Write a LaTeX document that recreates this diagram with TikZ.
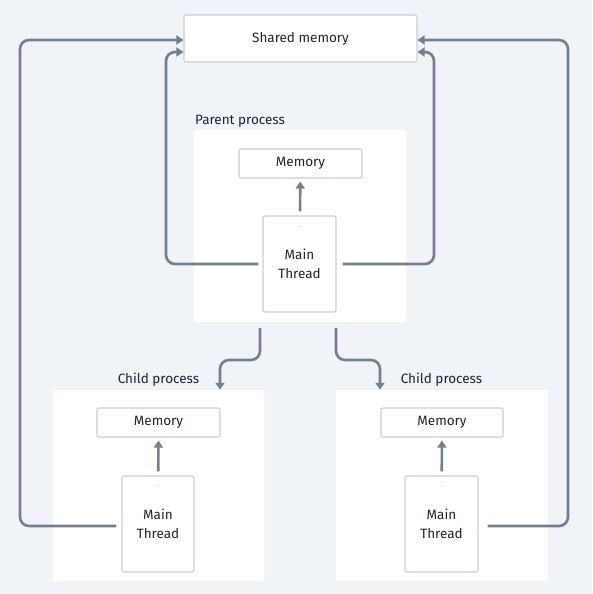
\documentclass[tikz,border=0pt]{standalone}
\usepackage{fontspec}
\setmainfont{Fira Sans}
\usetikzlibrary{arrows.meta, positioning}
\definecolor{canvas}{RGB}{240,243,247}
\definecolor{edge}{RGB}{197,206,216}
\definecolor{wire}{RGB}{115,129,143}
\definecolor{ink}{RGB}{28,38,48}

\begin{document}
\begin{tikzpicture}[
  x=1pt, y=-1pt,
  every node/.style={align=center, text=ink, font=\fontsize{13.5}{19}\selectfont},
  proc/.style={fill=white, inner sep=0pt, rounded corners=1pt},
  box/.style={draw=edge, line width=1.1pt, fill=white, rounded corners=2pt, inner sep=0pt},
  wire/.style={draw=wire, line width=2.6pt, rounded corners=9pt},
  >={Triangle[length=7pt, width=9pt]}
]
\fill[canvas] (0,0) rectangle (592,594);

% shared memory
\node[box, minimum width=233pt, minimum height=47pt] (shm) at (300.5,38.5) {Shared memory};

% parent process
\node[proc, minimum width=212pt, minimum height=192pt] (par) at (300,226) {};
\node[anchor=south west, inner sep=0pt] (parlbl) at (195,128) {Parent process};
\node[box, minimum width=123pt, minimum height=29pt] (parmem) at (300.5,163.5) {Memory};
\node[box, minimum width=73pt, minimum height=96pt] (parth) at (299.5,264) {Main\\Thread};
\node[font=\tiny, inner sep=0pt] (pardot) at (300,227) {.};

% child processes
\node[proc, minimum width=211pt, minimum height=191pt] (chl) at (158.5,485.5) {};
\node[anchor=south, inner sep=0pt] (chllbl) at (158.5,387) {Child process};
\node[box, minimum width=123pt, minimum height=29pt] (chlmem) at (158.5,422.5) {Memory};
\node[box, minimum width=72pt, minimum height=96pt] (chlth) at (158,524) {Main\\Thread};
\node[font=\tiny, inner sep=0pt] (chldot) at (158,486) {.};

\node[proc, minimum width=212pt, minimum height=191pt] (chr) at (442,485.5) {};
\node[anchor=south, inner sep=0pt] (chrlbl) at (441.5,387) {Child process};
\node[box, minimum width=122pt, minimum height=29pt] (chrmem) at (442,422.5) {Memory};
\node[box, minimum width=73pt, minimum height=96pt] (chrth) at (441.5,524) {Main\\Thread};
\node[font=\tiny, inner sep=0pt] (chrdot) at (441.5,486) {.};

% thread to own memory
\draw[->, wire, shorten <=4pt, shorten >=3pt] (parth) -- (parmem);
\draw[->, wire, shorten <=4pt, shorten >=3pt] (chlth) -- (chlmem);
\draw[->, wire, shorten <=4pt, shorten >=3pt] (chrth) -- (chrmem);

% threads to shared memory
\draw[->, wire] ([xshift=-4pt]parth.west) -| (166,52) -- ([yshift=-13.5pt]shm.west);
\draw[->, wire] ([xshift=6pt]parth.east) -| (434,52) -- ([yshift=-13.5pt]shm.east);
\draw[->, wire] ([xshift=-5pt,yshift=-2pt]chlth.west) -| (20,40) -- ([yshift=-1.5pt]shm.west);
\draw[->, wire] ([xshift=9pt,yshift=-2pt]chrth.east) -| (568,40) -- ([yshift=-1.5pt]shm.east);

% fork
\draw[->, wire] (260,328) |- (220,360) -- (chl.north -| 220,0);
\draw[->, wire] (336,328) |- (380,360) -- (chr.north -| 380,0);
\end{tikzpicture}
\end{document}
